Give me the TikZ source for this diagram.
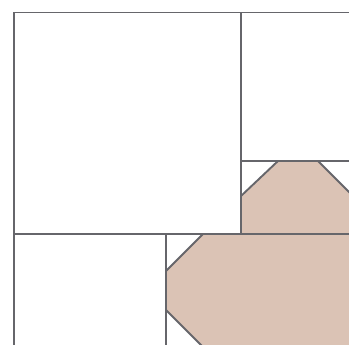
\documentclass[tikz,border=0pt]{standalone}
\usepackage{xcolor}
\usepackage{tikz}
\usetikzlibrary{calc}

\definecolor{seamgray}{HTML}{66666B}
\definecolor{patchtan}{HTML}{DBC3B5}

\begin{document}
\begin{tikzpicture}[
    x=1pt, y=-1pt,
    seam/.style={draw=seamgray, line width=1.9pt, line join=miter},
    patch/.style={seam, fill=patchtan},
]
\useasboundingbox (0,0) rectangle (349,345);
\clip (0,0) rectangle (349,345);

% Corners of the blocks
\coordinate (tl) at (14,12.5);
\coordinate (tr) at (352,12.5);
\coordinate (bl) at (14,348);
\coordinate (midtop) at (241,12.5);
\coordinate (midrow) at (241,234);
\coordinate (leftrow) at (14,234);
\coordinate (rightrow) at (352,234);
\coordinate (smallrow) at (241,161);
\coordinate (smallright) at (352,161);
\coordinate (lowcol) at (166,234);
\coordinate (lowbot) at (166,348);

% Upper patch
\filldraw[patch] (241,234) -- (241,196) -- (278,161) -- (318,161) -- (352,195) -- (352,234) -- cycle;

% Lower patch
\filldraw[patch] (166,271) -- (203,234) -- (352,234) -- (352,348) -- (204,348) -- (166,310) -- cycle;

% Block seams
\draw[seam] (bl) -- (tl) -- (tr);
\draw[seam] (midtop) -- (midrow);
\draw[seam] (leftrow) -- (rightrow);
\draw[seam] (smallrow) -- (smallright);
\draw[seam] (lowcol) -- (lowbot);

\end{tikzpicture}
\end{document}
